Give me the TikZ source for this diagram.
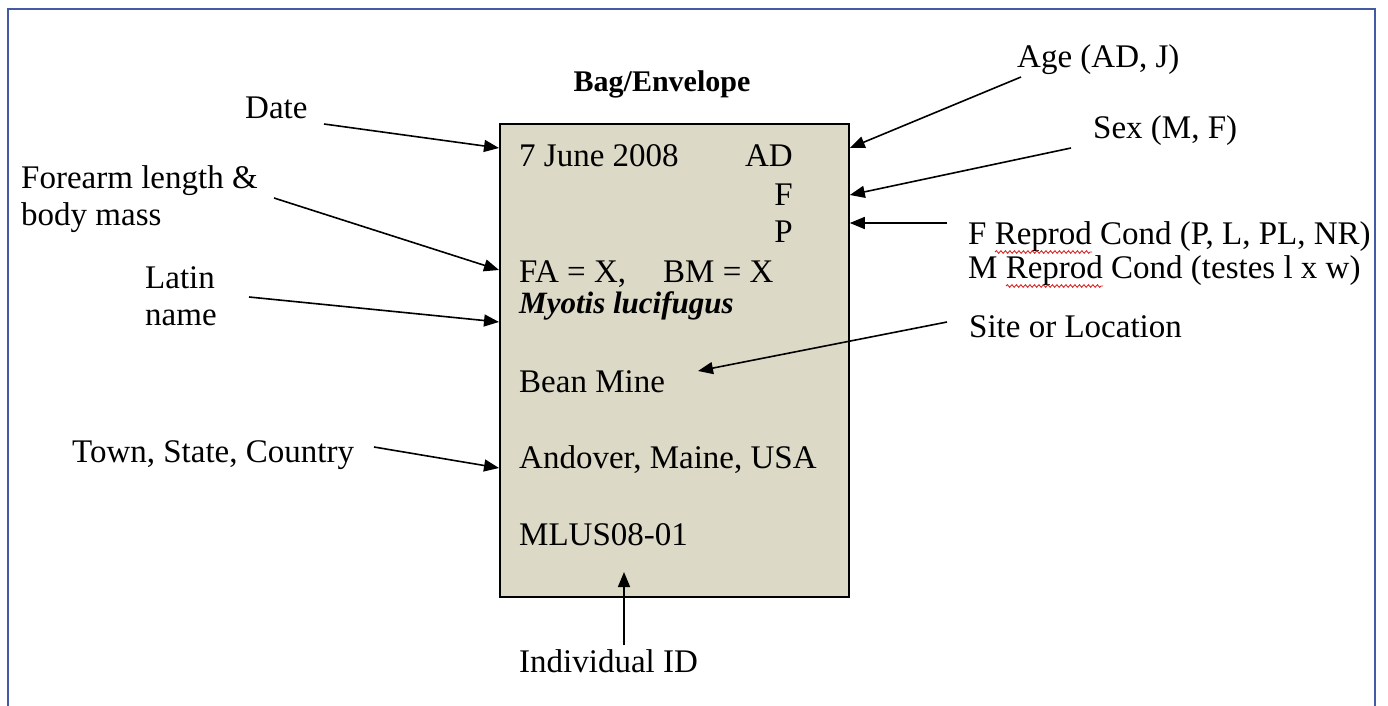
\documentclass[tikz,border=0pt]{standalone}
\usepackage{fontspec}
\setmainfont{Liberation Serif}
\usetikzlibrary{arrows.meta,calc,decorations.pathmorphing}
\definecolor{frameblue}{RGB}{68,90,165}
\definecolor{bagfill}{RGB}{221,217,199}
\definecolor{squigred}{RGB}{215,40,40}
\tikzset{
  lbl/.style={inner sep=0pt, anchor=base west, font=\fontsize{33}{38}\selectfont},
  arr/.style={line width=1.6pt, -{Triangle[length=15pt,width=12pt]}},
  squig/.style={draw=squigred, line width=0.9pt, decorate, decoration={snake, amplitude=1.3pt, segment length=4.5pt}}
}
\begin{document}
\begin{tikzpicture}[x=1pt,y=-1pt]
\useasboundingbox (0,0) rectangle (1388,706);
% outer frame (open at bottom)
\draw[frameblue, line width=2.2pt] (8,706) -- (8,9) -- (1375,9) -- (1375,706);
% bag
\node[draw=black, line width=1.8pt, fill=bagfill, minimum width=349pt, minimum height=473pt, inner sep=0pt, anchor=north west] (bag) at (499,123) {};
\node[lbl, anchor=base, font=\fontsize{30}{36}\selectfont\bfseries] (title) at (662,92) {Bag/Envelope};
% text on bag
\node[lbl] (date) at (519,166) {7 June 2008};
\node[lbl, anchor=base east] (ad) at (793,166) {AD};
\node[lbl, anchor=base east] (sx) at (793,205) {F};
\node[lbl, anchor=base east] (rc) at (793,242) {P};
\node[lbl] (fa) at (519,282) {FA = X,};
\node[lbl] (bm) at (663,282) {BM = X};
\node[lbl, font=\fontsize{31}{36}\selectfont\bfseries\itshape] (latn) at (519,313) {Myotis lucifugus};
\node[lbl] (site) at (519,392) {Bean Mine};
\node[lbl] (town) at (519,468) {Andover, Maine, USA};
\node[lbl] (id) at (519,545) {MLUS08-01};
% left labels
\node[lbl] (ldate) at (245,118) {Date};
\node[lbl] (lfa1) at (21,188) {Forearm length \&};
\node[lbl] (lfa2) at (21,225) {body mass};
\node[lbl] (llat1) at (145,288) {Latin};
\node[lbl] (llat2) at (145,325) {name};
\node[lbl] (ltown) at (72,462) {Town, State, Country};
% right labels
\node[lbl] (lage) at (1017,68) {Age (AD, J)};
\node[lbl] (lsex) at (1093,138) {Sex (M, F)};
\node[lbl] (lfr) at (968,244) {F Reprod Cond (P, L, PL, NR)};
\node[lbl] (lmr) at (968,278) {M Reprod Cond (testes l x w)};
\node[lbl] (lsite) at (969,337) {Site or Location};
\node[lbl] (lid) at (519,672) {Individual ID};
% spell-check squiggles
\draw[squig] ($(lfr.base west)+(27,8)$) -- ($(lfr.base west)+(124,8)$);
\draw[squig] ($(lmr.base west)+(38,8)$) -- ($(lmr.base west)+(135,8)$);
% arrow end points
\coordinate (sdate) at (324,124);
\coordinate (sfa) at (274,198);
\coordinate (slat) at (249,297);
\coordinate (stown) at (374,447);
\coordinate (sage) at (1021,77);
\coordinate (ssex) at (1071,148);
\coordinate (srep) at (947,223);
\coordinate (ssite) at (947,322);
\coordinate (sid) at (624,645);
\coordinate (tsite) at (698,371);
% arrows
\draw[arr] (sdate) -- (bag.west |- 0,148);
\draw[arr] (sfa) -- (bag.west |- 0,270);
\draw[arr] (slat) -- (bag.west |- 0,322);
\draw[arr] (stown) -- (bag.west |- 0,468);
\draw[arr] (sage) -- (bag.east |- 0,148);
\draw[arr] (ssex) -- (bag.east |- 0,195);
\draw[arr] (srep) -- (bag.east |- 0,223);
\draw[arr] (ssite) -- (tsite);
\draw[arr] (sid) -- (624,572);
\end{tikzpicture}
\end{document}
